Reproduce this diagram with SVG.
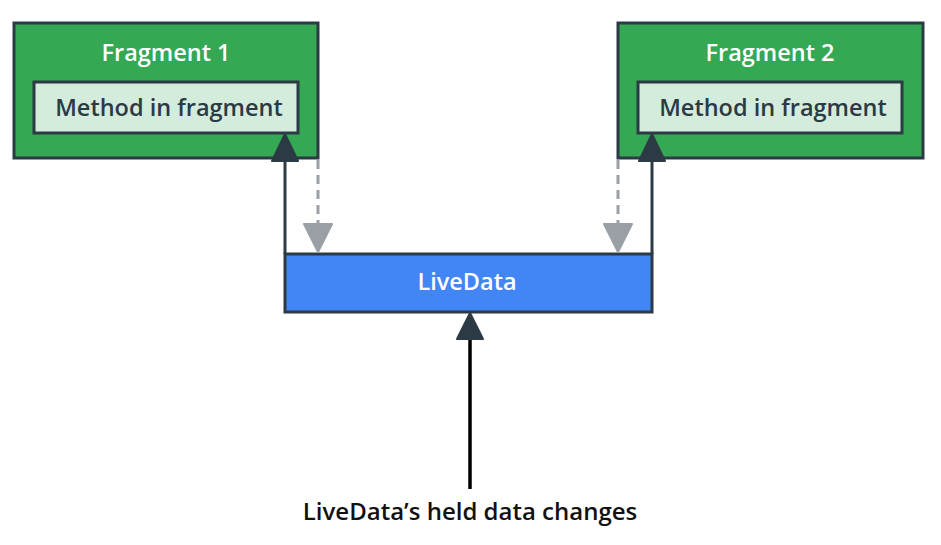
<svg xmlns="http://www.w3.org/2000/svg" width="941" height="545" viewBox="0 0 941 545">
<style>
.frag{fill:#34a853;stroke:#2b3a44;stroke-width:3}
.inner{fill:#d3ecdb;stroke:#2b3a44;stroke-width:3}
.ld{fill:#4285f4;stroke:#2b3a44;stroke-width:3}
text{font-family:"Open Sans","Noto Sans","Liberation Sans",sans-serif;font-size:23.5px;font-weight:600;text-anchor:middle}
.w{fill:#ffffff}
.d{fill:#2b3a44}
.solid{stroke:#2b3a44;stroke-width:3;fill:none}
.dash{stroke:#9aa0a6;stroke-width:3;fill:none;stroke-dasharray:9 6}
</style>
<rect width="941" height="545" fill="#ffffff"/>
<g id="fragment1">
<rect class="frag" x="14" y="23" width="304" height="135"/>
<text class="w" x="166" y="61">Fragment 1</text>
<rect class="inner" x="34" y="82" width="264" height="51"/>
<text class="d" x="169" y="116">Method in fragment</text>
</g>
<g id="fragment2">
<rect class="frag" x="618" y="23" width="305" height="135"/>
<text class="w" x="770" y="61">Fragment 2</text>
<rect class="inner" x="638" y="82" width="264" height="51"/>
<text class="d" x="773" y="116">Method in fragment</text>
</g>
<g id="livedata">
<rect class="ld" x="285" y="254" width="367" height="58"/>
<text class="w" x="467" y="290">LiveData</text>
</g>
<g id="connectors">
<path class="solid" d="M285 254 V158"/>
<path d="M285 134 L272 161 L298 161 Z" fill="#2b3a44" stroke="#2b3a44" stroke-width="2" stroke-linejoin="round"/>
<path class="solid" d="M652 254 V158"/>
<path d="M652 134 L639 161 L665 161 Z" fill="#2b3a44" stroke="#2b3a44" stroke-width="2" stroke-linejoin="round"/>
<path class="dash" d="M318 160 V226"/>
<path d="M318 252 L304 224 L332 224 Z" fill="#9aa0a6" stroke="#9aa0a6" stroke-width="2" stroke-linejoin="round"/>
<path class="dash" d="M618 160 V226"/>
<path d="M618 252 L604 224 L632 224 Z" fill="#9aa0a6" stroke="#9aa0a6" stroke-width="2" stroke-linejoin="round"/>
<path d="M470 489 V336" stroke="#000000" stroke-width="3.5" fill="none"/>
<path d="M470 313 L457 339 L483 339 Z" fill="#2b3a44" stroke="#2b3a44" stroke-width="2" stroke-linejoin="round"/>
</g>
<text x="470" y="520" fill="#111111" style="font-size:24px">LiveData’s held data changes</text>
</svg>
